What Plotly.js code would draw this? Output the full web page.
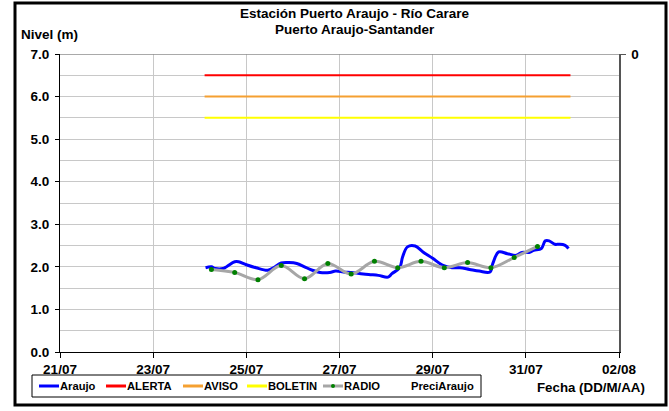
<!DOCTYPE html>
<html>
<head>
<meta charset="utf-8">
<script src="https://cdn.plot.ly/plotly-3.0.1.min.js"></script>
<style>html,body{margin:0;padding:0;background:#fff;}#chart{width:669px;height:411px;}</style>
</head>
<body>
<div id="chart"></div>
<script>
// Araujo level series
var araujoDates = [
 '2008-07-24 03:00','2008-07-24 06:00','2008-07-24 08:00','2008-07-24 12:00','2008-07-24 14:00','2008-07-24 18:00','2008-07-24 20:00',
 '2008-07-25 00:00','2008-07-25 05:00','2008-07-25 11:00','2008-07-25 14:00','2008-07-25 18:00','2008-07-25 22:00',
 '2008-07-26 02:00','2008-07-26 06:00','2008-07-26 10:00','2008-07-26 14:00','2008-07-26 19:00','2008-07-26 22:00',
 '2008-07-27 02:00','2008-07-27 07:00','2008-07-27 15:00','2008-07-27 20:00',
 '2008-07-28 01:00','2008-07-28 03:00','2008-07-28 07:00','2008-07-28 08:30','2008-07-28 11:00','2008-07-28 15:00','2008-07-28 19:00',
 '2008-07-29 00:00','2008-07-29 05:00','2008-07-29 10:00','2008-07-29 14:00','2008-07-29 19:00',
 '2008-07-30 00:00','2008-07-30 05:30','2008-07-30 07:00','2008-07-30 10:00','2008-07-30 14:30','2008-07-30 19:00','2008-07-30 22:00',
 '2008-07-31 02:00','2008-07-31 04:00','2008-07-31 08:00','2008-07-31 10:00','2008-07-31 12:00','2008-07-31 15:00','2008-07-31 17:00','2008-07-31 20:00','2008-07-31 22:00'
];
var araujoValues = [
 1.98,2.00,1.96,1.96,2.01,2.12,2.12,
 2.05,1.98,1.92,1.98,2.09,2.10,
 2.08,2.00,1.92,1.87,1.87,1.90,
 1.88,1.86,1.82,1.80,
 1.76,1.84,1.98,2.23,2.47,2.49,2.35,
 2.20,2.04,1.98,1.98,1.94,
 1.90,1.88,2.08,2.35,2.31,2.27,2.34,
 2.34,2.39,2.43,2.61,2.61,2.53,2.53,2.51,2.43
];
// Radio readings (twice daily)
var radioDates = [
 '2008-07-24 06:00','2008-07-24 18:00','2008-07-25 06:00','2008-07-25 18:00','2008-07-26 06:00','2008-07-26 18:00',
 '2008-07-27 06:00','2008-07-27 18:00','2008-07-28 06:00','2008-07-28 18:00','2008-07-29 06:00','2008-07-29 18:00',
 '2008-07-30 06:00','2008-07-30 18:00','2008-07-31 06:00'
];
var radioValues = [1.94,1.87,1.70,2.03,1.72,2.08,1.83,2.13,1.98,2.13,1.98,2.10,1.98,2.22,2.48];
// Threshold levels
var thresholdDates = ['2008-07-24 02:30','2008-07-31 23:00'];
var alertaValues = [6.5,6.5];
var avisoValues = [6.0,6.0];
var boletinValues = [5.5,5.5];
// Precipitation (no data shown)
var preciDates = [];
var preciValues = [];

var seriesNames = ['Araujo','ALERTA','AVISO','BOLETIN','RADIO','PreciAraujo'];
var tickVals = ['2008-07-21','2008-07-23','2008-07-25','2008-07-27','2008-07-29','2008-07-31','2008-08-02'];
var tickText = ['21/07','23/07','25/07','27/07','29/07','31/07','02/08'];
var yTickVals = [0,1,2,3,4,5,6,7];
var yTickText = ['0.0','1.0','2.0','3.0','4.0','5.0','6.0','7.0'];

var F = 'Liberation Sans, Arial, sans-serif';
var colors = ['#0000ff','#ff0000','#f5a031','#ffff00','#a6a6a6', null];

var traces = [
 {x: araujoDates, y: araujoValues, name: seriesNames[0], mode: 'lines', line: {color: colors[0], width: 3, shape: 'spline', smoothing: 1}},
 {x: thresholdDates, y: alertaValues, name: seriesNames[1], mode: 'lines', line: {color: colors[1], width: 2}},
 {x: thresholdDates, y: avisoValues, name: seriesNames[2], mode: 'lines', line: {color: colors[2], width: 2}},
 {x: thresholdDates, y: boletinValues, name: seriesNames[3], mode: 'lines', line: {color: colors[3], width: 2}},
 {x: radioDates, y: radioValues, name: seriesNames[4], mode: 'lines+markers', line: {color: colors[4], width: 3, shape: 'spline', smoothing: 1}, marker: {color: '#008000', size: 5}},
 {x: preciDates, y: preciValues, name: seriesNames[5], type: 'bar', yaxis: 'y2', marker: {color: '#4f81bd'}}
];

// geometry helpers (plot area: l=60, r=50, t=54, b=59 -> 559 x 298)
var L = 60, T = 54, W = 559, H = 298;
function px(x) { return (x - L) / W; }
function py(y) { return (T + H - y) / H; }

var shapes = [
 {type: 'line', xref: 'paper', yref: 'y', x0: 0, x1: 1, y0: 7, y1: 7, line: {color: '#8c8c8c', width: 1.5}},
 {type: 'rect', xref: 'paper', yref: 'paper', x0: px(15), x1: px(666), y0: py(405), y1: py(3), line: {color: '#000', width: 3}, fillcolor: 'rgba(0,0,0,0)', layer: 'above'},
 {type: 'rect', xref: 'paper', yref: 'paper', x0: px(32), x1: px(481), y0: py(397), y1: py(375), line: {color: '#000', width: 1}, fillcolor: 'rgba(0,0,0,0)'}
];
var annotations = [
 {text: '<b>Estación Puerto Araujo - Río Carare</b>', xref: 'paper', yref: 'paper', x: px(355), y: py(14), xanchor: 'center', yanchor: 'middle', showarrow: false, font: {family: F, size: 13.5, color: '#000'}},
 {text: '<b>Puerto Araujo-Santander</b>', xref: 'paper', yref: 'paper', x: px(355), y: py(29), xanchor: 'center', yanchor: 'middle', showarrow: false, font: {family: F, size: 13.5, color: '#000'}},
 {text: '<b>Nivel (m)</b>', xref: 'paper', yref: 'paper', x: px(19), y: py(35), xanchor: 'left', yanchor: 'middle', showarrow: false, font: {family: F, size: 13.5, color: '#000'}},
 {text: '<b>Fecha (DD/M/AA)</b>', xref: 'paper', yref: 'paper', x: px(591), y: py(387), xanchor: 'center', yanchor: 'middle', showarrow: false, font: {family: F, size: 13.3, color: '#000'}}
];
// manual legend (one row inside a bordered box)
var legLineStart = [39, 106, 183, 247, 323, 390];
var legTextStart = [60, 127, 204, 268, 344, 411];
var legY = 386;
for (var i = 0; i < seriesNames.length; i++) {
 if (colors[i]) {
  shapes.push({type: 'line', xref: 'paper', yref: 'paper', x0: px(legLineStart[i]), x1: px(legTextStart[i] - 1), y0: py(legY), y1: py(legY), line: {color: colors[i], width: 3}});
 }
 if (i === 4) {
  var cx = (legLineStart[i] + legTextStart[i] - 1) / 2;
  shapes.push({type: 'circle', xref: 'paper', yref: 'paper', x0: px(cx - 2), x1: px(cx + 2), y0: py(legY + 2), y1: py(legY - 2), fillcolor: '#008000', line: {color: '#008000', width: 0}});
 }
 annotations.push({text: '<b>' + seriesNames[i] + '</b>', xref: 'paper', yref: 'paper', x: px(legTextStart[i]), y: py(legY), xanchor: 'left', yanchor: 'middle', xshift: -2, showarrow: false, font: {family: F, size: 11.2, color: '#000'}});
}

var layout = {
 width: 669, height: 411,
 margin: {l: L, r: 669 - L - W, t: T, b: 411 - T - H},
 paper_bgcolor: '#fff', plot_bgcolor: '#fff',
 font: {family: F, size: 13.5, color: '#000'},
 showlegend: false,
 xaxis: {type: 'date', range: ['2008-07-21', '2008-08-02'], tickvals: tickVals, ticktext: tickText, ticks: 'outside', ticklen: 5, tickcolor: '#000', showline: true, linecolor: '#000', linewidth: 1, showgrid: true, gridcolor: '#c8c8c8', gridwidth: 1, zeroline: false, automargin: false, tickfont: {family: F, size: 13.5, color: '#000', weight: 'bold'}},
 yaxis: {range: [0, 7], tickvals: yTickVals, ticktext: yTickText, ticks: 'outside', ticklen: 4, tickcolor: '#000', showline: true, linecolor: '#000', linewidth: 1, showgrid: true, gridcolor: '#c8c8c8', zeroline: false, automargin: false, ticklabelstandoff: 3, minor: {dtick: 0.5, showgrid: true, gridcolor: '#c8c8c8', ticks: ''}, tickfont: {family: F, size: 13.5, color: '#000', weight: 'bold'}},
 yaxis2: {overlaying: 'y', side: 'right', range: [10, 0], tickvals: [0], ticktext: ['0'], ticks: 'outside', ticklen: 5, tickcolor: '#555', showline: true, linecolor: '#555', linewidth: 1.5, showgrid: false, zeroline: false, automargin: false, ticklabelstandoff: 3, tickfont: {family: F, size: 13.5, color: '#000', weight: 'bold'}},
 annotations: annotations,
 shapes: shapes
};
Plotly.newPlot('chart', traces, layout, {displayModeBar: false, staticPlot: true});
</script>
</body>
</html>
